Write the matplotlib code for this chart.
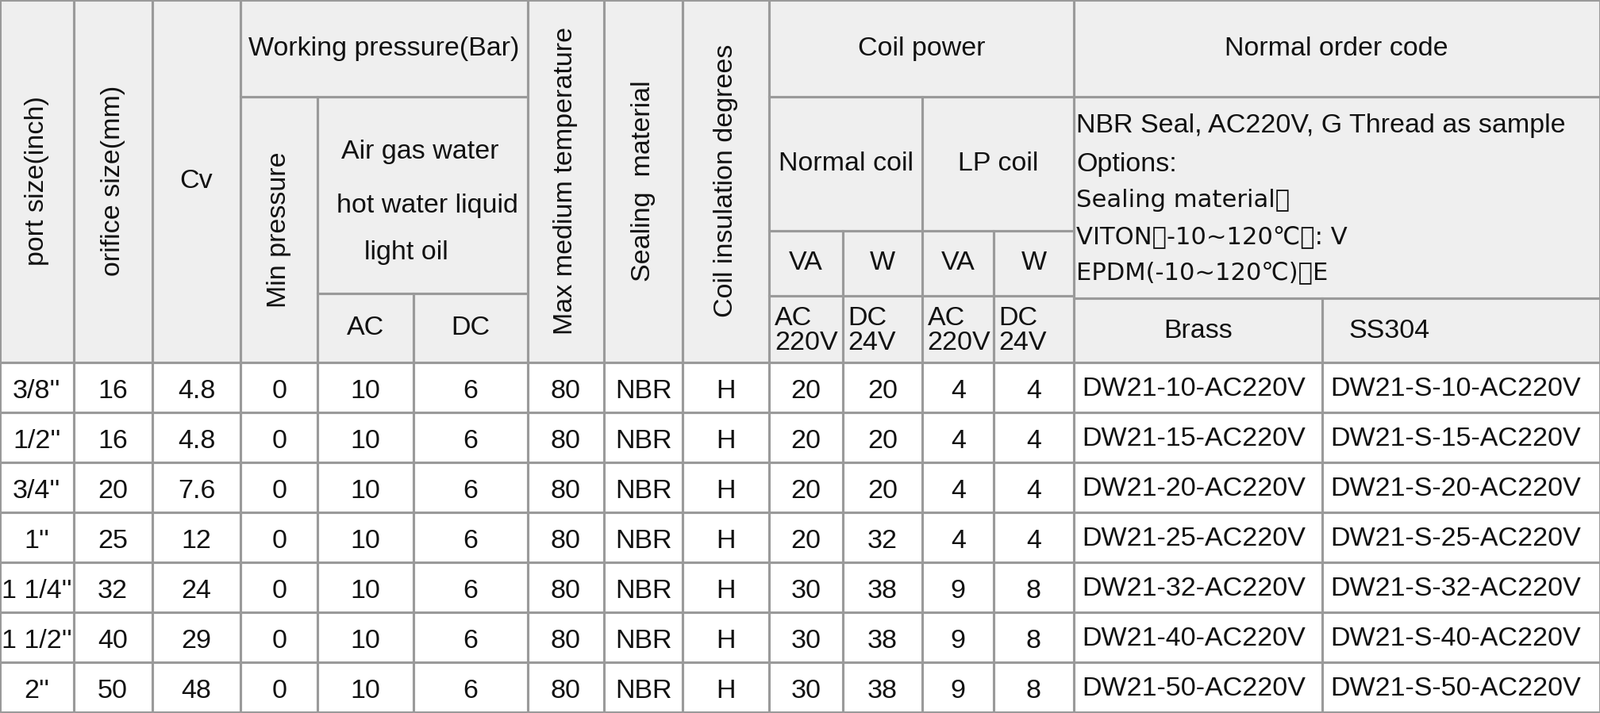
import matplotlib
matplotlib.use("Agg")
import matplotlib.pyplot as plt

port = ["3/8''", "1/2''", "3/4''", "1''", "1 1/4''", "1 1/2''", "2''"]
orifice = ["16", "16", "20", "25", "32", "40", "50"]
cv = ["4.8", "4.8", "7.6", "12", "24", "29", "48"]
min_p = ["0"] * 7
ac_p = ["10"] * 7
dc_p = ["6"] * 7
max_t = ["80"] * 7
seal = ["NBR"] * 7
insul = ["H"] * 7
n_va = ["20", "20", "20", "20", "30", "30", "30"]
n_w = ["20", "20", "20", "32", "38", "38", "38"]
lp_va = ["4", "4", "4", "4", "9", "9", "9"]
lp_w = ["4", "4", "4", "4", "8", "8", "8"]
sizes = ["10", "15", "20", "25", "32", "40", "50"]
brass = ["DW21-%s-AC220V" % s for s in sizes]
ss = ["DW21-S-%s-AC220V" % s for s in sizes]

fig = plt.figure(figsize=(20.16, 8.99), dpi=100)
ax = fig.add_axes([0, 0, 1, 1])
ax.set_xlim(0, 1568)
ax.set_ylim(699, 0)
ax.axis("off")
FONT = "Liberation Sans"
FS = 24.5
LC = "#9a9a9a"
ax.add_patch(plt.Rectangle((0, 0), 1568, 355, color="#efefef", zorder=0))

def box(x0, y0, x1, y1):
    ax.plot([x0, x1, x1, x0, x0], [y0, y0, y1, y1, y0], color=LC, lw=2.2, zorder=2)

def txt(x, y, s, rot=0, ha="center", fs=FS, fam=FONT):
    ax.text(x, y, s, rotation=rot, ha=ha, va="center", fontsize=fs,
            fontfamily=fam, color="#111111", zorder=3, linespacing=1.0)

def cell(x0, y0, x1, y1, s, rot=0, dy=0):
    box(x0, y0, x1, y1)
    if s:
        txt((x0 + x1) / 2, (y0 + y1) / 2 + dy, s, rot)

# header
cell(0, 0, 72, 355, "port size(inch)", 90)
cell(72, 0, 149, 355, "orifice size(mm)", 90)
cell(149, 0, 236, 355, "Cv")
cell(236, 0, 517, 95, "Working pressure(Bar)")
cell(236, 95, 311, 355, "Min pressure", 90)
cell(311, 95, 517, 288, "")
txt(412, 149, "Air gas water")
txt(419, 202, "hot water liquid")
txt(357, 248, "light oil", ha="left")
cell(311, 288, 405, 355, "AC")
cell(405, 288, 517, 355, "DC")
cell(517, 0, 592, 355, "Max medium temperature", 90)
cell(592, 0, 669, 355, "Sealing  material", 90)
cell(669, 0, 754, 355, "Coil insulation degrees", 90)
cell(754, 0, 1052, 95, "Coil power")
cell(754, 95, 904, 226, "Normal coil")
cell(904, 95, 1052, 226, "LP coil")
for (a, b, s) in [(754, 826, "VA"), (826, 904, "W"), (904, 974, "VA"), (974, 1052, "W")]:
    cell(a, 226, b, 290, s)
for (a, b, s) in [(754, 826, "AC\n220V"), (826, 904, "DC\n24V"), (904, 974, "AC\n220V"), (974, 1052, "DC\n24V")]:
    box(a, 290, b, 355)
    txt(a + 5, 324, s, ha="left")
cell(1052, 0, 1568, 95, "Normal order code")
box(1052, 95, 1568, 292)
lines = ["NBR Seal, AC220V, G Thread as sample", "Options:", "Sealing material：",
         "VITON（-10~120℃）: V", "EPDM(-10~120℃)：E"]
for k, (y, s) in enumerate(zip([123, 161, 196, 232, 267], lines)):
    fam = FONT if k < 2 else "Noto Sans CJK SC"
    fs = FS if k < 2 else FS * 0.9
    ax.text(1055, y, s, ha="left", va="center", fontsize=fs,
            fontfamily=fam, color="#111111", zorder=3)
box(1052, 292, 1296, 355)
txt(1174, 325, "Brass")
box(1296, 292, 1568, 355)
txt(1322, 325, "SS304", ha="left")

cols = [0, 72, 149, 236, 311, 405, 517, 592, 669, 754, 826, 904, 974, 1052, 1296, 1568]
data = [port, orifice, cv, min_p, ac_p, dc_p, max_t, seal, insul, n_va, n_w, lp_va, lp_w, brass, ss]
rows = [355, 404, 453, 502, 551, 600, 649, 698]
for i in range(7):
    for j, col in enumerate(data):
        if j >= 13:
            box(cols[j], rows[i], cols[j + 1], rows[i + 1])
            txt(cols[j] + 8, (rows[i] + rows[i + 1]) / 2 + 2, col[i], ha="left")
        else:
            cell(cols[j], rows[i], cols[j + 1], rows[i + 1], col[i], dy=4)

fig.savefig("out.png", dpi=100)
